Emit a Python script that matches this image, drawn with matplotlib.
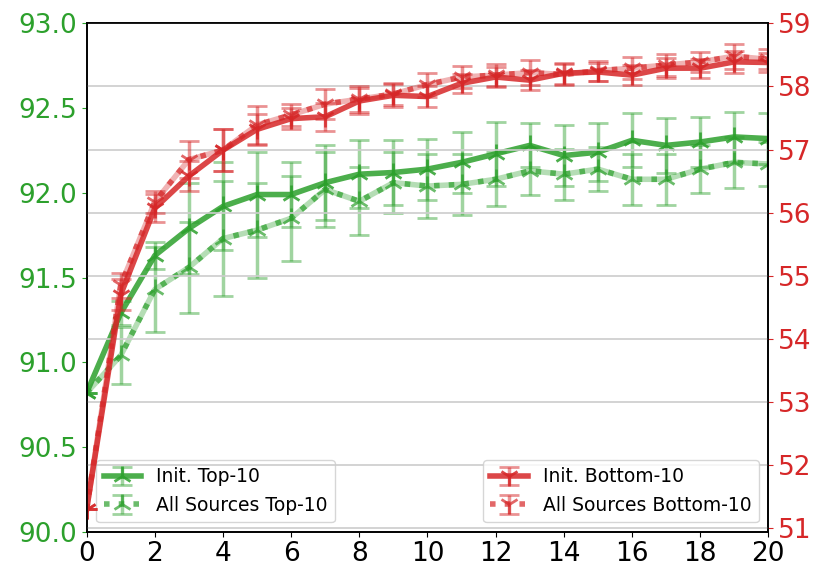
import numpy as np
import matplotlib
matplotlib.use("Agg")
import matplotlib.pyplot as plt

green = "#2ca02c"
red = "#d62728"

epochs = np.arange(0, 21)

# left axis (green), top-10 accuracy
init_top = [90.82, 91.29, 91.63, 91.79, 91.92, 91.99, 91.99, 92.06, 92.11, 92.12, 92.14,
            92.18, 92.23, 92.28, 92.22, 92.24, 92.31, 92.28, 92.30, 92.33, 92.32]
init_top_err = [0.0, 0.07, 0.08, 0.27, 0.26, 0.25, 0.19, 0.22, 0.2, 0.19, 0.18,
                0.18, 0.19, 0.13, 0.18, 0.17, 0.16, 0.16, 0.15, 0.15, 0.15]
all_top = [90.82, 91.04, 91.43, 91.56, 91.73, 91.78, 91.85, 92.02, 91.95, 92.06, 92.04,
           92.05, 92.08, 92.13, 92.11, 92.14, 92.08, 92.08, 92.14, 92.18, 92.17]
all_top_err = [0.0, 0.17, 0.25, 0.27, 0.34, 0.28, 0.25, 0.22, 0.2, 0.18, 0.19,
               0.18, 0.16, 0.14, 0.15, 0.13, 0.15, 0.15, 0.14, 0.15, 0.13]

# right axis (red), bottom-10 accuracy
init_bot = [51.3, 54.7, 56.07, 56.58, 56.99, 57.32, 57.49, 57.52, 57.77, 57.86, 57.84,
            58.05, 58.15, 58.10, 58.21, 58.23, 58.18, 58.29, 58.29, 58.39, 58.38]
init_bot_err = [0.0, 0.25, 0.22, 0.24, 0.33, 0.25, 0.17, 0.22, 0.2, 0.18, 0.16,
                0.15, 0.16, 0.16, 0.17, 0.15, 0.16, 0.16, 0.15, 0.17, 0.15]
all_bot = [51.3, 54.85, 56.17, 56.84, 56.99, 57.39, 57.55, 57.72, 57.8, 57.88, 58.03,
           58.15, 58.18, 58.22, 58.19, 58.25, 58.29, 58.34, 58.39, 58.48, 58.43]
all_bot_err = [0.0, 0.2, 0.17, 0.29, 0.33, 0.3, 0.17, 0.24, 0.2, 0.18, 0.19,
               0.17, 0.17, 0.2, 0.17, 0.16, 0.17, 0.17, 0.16, 0.2, 0.16]

fig, ax = plt.subplots(figsize=(8.3, 5.85), dpi=100)
fig.subplots_adjust(left=0.1044, right=0.9257, bottom=0.0911, top=0.960)
ax2 = ax.twinx()

kw = dict(lw=4, ms=14, mew=2, capsize=7, capthick=2, elinewidth=2.5)


def draw(a, y, err, c, mk, ls, label, line_alpha, err_alpha):
    cont = a.errorbar(epochs, y, yerr=err, color=c, marker=mk, ls=ls, label=label, **kw)
    line, caps, bars = cont
    line.set_alpha(line_alpha)
    for cl in caps:
        cl.set_alpha(err_alpha)
    for b in bars:
        b.set_alpha(err_alpha)
    return cont


# green, left axis
draw(ax, init_top, init_top_err, green, "2", "-", "Init. Top-10", 0.85, 0.45)
ax.plot(epochs, all_top, color=green, lw=4, alpha=0.35)
draw(ax, all_top, all_top_err, green, "2", ":", "All Sources Top-10", 0.7, 0.45)

# red, right axis
draw(ax2, init_bot, init_bot_err, red, "1", "-", "Init. Bottom-10", 0.85, 0.5)
ax2.plot(epochs, all_bot, color=red, lw=4, alpha=0.35)
draw(ax2, all_bot, all_bot_err, red, "1", ":", "All Sources Bottom-10", 0.7, 0.5)

ax.set_xlim(0, 20)
ax.set_xticks(range(0, 21, 2))
ax.set_ylim(90, 93)
ax.set_yticks(np.arange(90, 93.01, 0.5))
ax2.set_ylim(50.94, 59)
ax2.set_yticks(range(51, 60))

ax2.grid(axis="y", color="#cccccc", lw=1.2)
ax2.set_axisbelow(True)

ax.tick_params(axis="y", colors=green, labelsize=19)
ax.tick_params(axis="x", labelsize=19)
ax2.tick_params(axis="y", colors=red, labelsize=19)
for a in (ax, ax2):
    for s in a.spines.values():
        s.set_color("black")
        s.set_linewidth(1.2)

ax.legend(loc="lower left", fontsize=13.5)
ax2.legend(loc="lower right", fontsize=13.5)

fig.savefig("out.png", dpi=100)
